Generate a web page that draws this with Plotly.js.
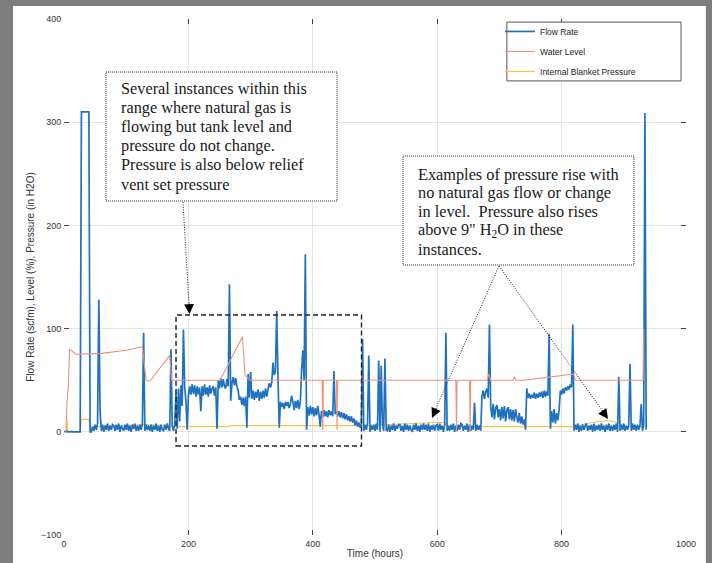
<!DOCTYPE html>
<html>
<head>
<meta charset="utf-8">
<script src="https://cdn.plot.ly/plotly-3.0.1.min.js"></script>
<style>html,body{margin:0;padding:0;background:#7c7d7f;}#chart{width:712px;height:563px;}</style>
</head>
<body>
<div id="chart"></div>
<script>
// ---- data ----
const flowSampleHours = 2; // flow logged every 2 hours
const flowRate = [
  0,0.5,0,0.3,0,0,0.4,0,0,0,
  0,0,0,0,310,310,310,310,310,310,
  310,0,0,5,1,7,2,8,128,20,
  1,7,0,6,2,8,1,6,2,7,
  6,1,7,2,8,0,6,3,1,7,
  2,8,1,6,0,7,3,8,1,6,
  1,7,2,8,96,1,7,2,6,1,
  7,0,6,2,8,1,6,0,7,2,
  1,7,2,8,3,1,80,6,1,7,
  38,3,42,10,45,25,99,44,30,2,
  35,44,36,46,37,45,34,44,36,43,
  20,44,35,46,36,43,34,45,37,42,
  44,35,43,3,50,42,52,43,51,44,
  42,51,44,143,30,47,53,45,52,44,
  40,31,34,26,33,25,34,4,56,33,
  58,32,40,31,39,33,41,30,39,32,
  40,33,42,34,41,47,43,48,67,55,
  59,117,53,4,29,24,28,22,29,25,
  29,23,27,35,29,21,30,23,31,22,
  29,60,79,50,172,2,24,16,25,17,
  24,15,23,16,25,17,5,20,14,21,
  15,20,14,21,16,20,15,59,17,20,
  15,20,14,19,13,18,12,17,11,15,
  10,15,9,13,6,11,5,9,4,7,
  90,1,7,2,8,74,0,6,2,7,
  1,8,2,69,0,64,7,1,71,2,
  1,7,0,6,2,8,1,6,3,7,
  7,1,6,0,8,2,7,1,6,2,
  0,7,2,8,1,6,0,7,2,8,
  2,7,1,8,0,6,2,7,1,6,
  7,1,8,2,6,0,7,96,1,6,
  1,7,2,8,0,6,1,7,2,8,
  7,1,6,2,8,0,7,1,6,2,
  28,1,7,2,6,1,35,40,32,39,
  42,33,104,25,14,27,12,23,26,14,
  22,11,24,13,25,10,21,24,12,22,
  11,21,10,22,14,9,18,8,15,7,
  12,2,42,33,37,32,36,33,38,32,
  37,33,38,34,39,33,40,34,39,35,
  95,3,20,9,22,8,18,11,21,40,
  36,42,37,43,40,44,41,46,43,104,
  1,7,2,8,0,6,1,7,2,6,
  8,1,6,2,7,0,8,1,6,2,
  7,1,8,2,6,0,7,2,8,1,
  6,1,7,2,8,0,53,1,7,2,
  8,1,6,2,7,66,1,8,2,7,
  1,7,2,6,27,1,7,309,2
];
const flowTime = flowRate.map((_, i) => i * flowSampleHours);

const levelTime  = [2,3,5,7,9,20,60,100,126,132,138,170,173,176,251,287,291,299,340,415,416,417,438,439,440,480,520,600,630,631,632,652,653,654,680,683,686,722,724,727,738,780,819,822,900,931,932];
const levelValue = [0,0,30,45,80,75,76,79,82.5,50,49,74,50,50,50,92,55,50,50,50,2,50,50,2,50,50,50,50,50,0,50,50,0,50,50,56,50,50,53,50,50,53,56,50,50,50,100];

const pressureTime  = [0,4,5,6,26,28,40,42,46,60,100,130,172,176,265,268,300,400,480,520,560,600,612,616,700,820,840,860,875,890,905,935];
const pressureValue = [0,0,12,0,0,12,12,2,5,5,6,7,6,5,5,6,6,6,6,7,8,9,9,5,5,5,8,10,11,9,5,5];

const seriesNames = ['Flow Rate', 'Water Level', 'Internal Blanket Pressure'];
const xTicks = [0, 200, 400, 600, 800, 1000];
const yTicks = [-100, 0, 100, 200, 300, 400];

const note1Lines = ['Several instances within this', 'range where natural gas is', 'flowing but tank level and', 'pressure do not change.', 'Pressure is also below relief', 'vent set pressure'];
const note2Lines = ['Examples of pressure rise with', 'no natural gas flow or change', 'in level.\u00a0 Pressure also rises', 'above 9" H<sub>2</sub>O in these', 'instances.'];

// ---- traces ----
const traces = [
  {x: flowTime, y: flowRate, name: seriesNames[0], type: 'scatter', mode: 'lines',
   line: {color: '#1f72bf', width: 1.7, simplify: false}, legendgroup: 'a', zorder: 1},
  {x: levelTime, y: levelValue, name: seriesNames[1], type: 'scatter', mode: 'lines',
   line: {color: '#f0907a', width: 1.1, simplify: false}, legendgroup: 'b', zorder: 2},
  {x: pressureTime, y: pressureValue, name: seriesNames[2], type: 'scatter', mode: 'lines',
   line: {color: '#f3c54e', width: 1.1, simplify: false}, legendgroup: 'c', zorder: 0}
];

// ---- decorations ----
const serif = 'Liberation Serif, Times New Roman, serif';
const annotations = [];
const n1y = [333.1, 314.5, 295.9, 277.3, 258.7, 240.1];
note1Lines.forEach((t, i) => annotations.push({x: 88.4, y: n1y[i], xref: 'x', yref: 'y', text: t, showarrow: false,
  xanchor: 'left', yanchor: 'middle', align: 'left', font: {family: serif, size: 16.3, color: '#1a1a1a'}}));
const n2y = [249.8, 231.6, 213.4, 195.2, 176.9];
note2Lines.forEach((t, i) => annotations.push({x: 565.9, y: n2y[i], xref: 'x', yref: 'y', text: t, showarrow: false,
  xanchor: 'left', yanchor: 'middle', align: 'left', font: {family: serif, size: 16.3, color: '#1a1a1a'}}));
const heads = [
  {x: 201.8, y: 114.1, ax: -0.6, ay: -12},
  {x: 591.6, y: 13.4, ax: 5, ay: -11},
  {x: 874.6, y: 12.4, ax: -7, ay: -10}
];
heads.forEach(h => annotations.push({x: h.x, y: h.y, xref: 'x', yref: 'y', ax: h.ax, ay: h.ay, text: '',
  showarrow: true, arrowhead: 2, arrowsize: 1.8, arrowwidth: 1.1, arrowcolor: '#000', standoff: 0}));

const dotted = {color: '#333', width: 1, dash: '1px,1px'};
const shapes = [
  {type: 'rect', xref: 'paper', yref: 'paper', x0: -0.082, x1: 1.032, y0: -0.1, y1: 1.0252,
   fillcolor: '#ffffff', line: {width: 0}, layer: 'below'},
  {type: 'rect', xref: 'paper', yref: 'paper', x0: 0.712, x1: 0.992, y0: 0.880, y1: 0.994,
   fillcolor: '#ffffff', line: {color: '#555', width: 1}, layer: 'above'},
  {type: 'rect', xref: 'x', yref: 'y', x0: 67.5, x1: 438.9, y0: 223.6, y1: 348.6,
   fillcolor: '#ffffff', line: dotted, layer: 'above'},
  {type: 'rect', xref: 'x', yref: 'y', x0: 545.0, x1: 916.4, y0: 161.6, y1: 267.2,
   fillcolor: '#ffffff', line: dotted, layer: 'above'},
  {type: 'rect', xref: 'x', yref: 'y', x0: 180.1, x1: 478.3, y0: -13.8, y1: 113.2,
   line: {color: '#222', width: 1.4, dash: '5px,3px'}, layer: 'above'},
  {type: 'line', xref: 'x', yref: 'y', x0: 191.3, y0: 222.7, x1: 201.5, y1: 118, line: {color: '#222', width: 1, dash: '1px,1.5px'}, layer: 'above'},
  {type: 'line', xref: 'x', yref: 'y', x0: 699.4, y0: 160.7, x1: 593, y1: 16, line: {color: '#222', width: 1, dash: '1px,1.5px'}, layer: 'above'},
  {type: 'line', xref: 'x', yref: 'y', x0: 699.4, y0: 160.7, x1: 872, y1: 15, line: {color: '#222', width: 1, dash: '1px,1.5px'}, layer: 'above'}
];

const axisCommon = {
  ticks: 'inside', ticklen: 5, tickwidth: 1, tickcolor: '#444',
  showline: true, linecolor: '#555', linewidth: 1, mirror: 'ticks',
  showgrid: true, gridcolor: '#e4e4e4', gridwidth: 1, zeroline: false,
  tickfont: {size: 9, color: '#333'}, automargin: false
};

const layout = {
  width: 712, height: 563,
  margin: {l: 64, r: 26, t: 19, b: 28, pad: 0},
  paper_bgcolor: '#7c7d7f', plot_bgcolor: '#ffffff',
  font: {family: 'Liberation Sans, Arial, sans-serif', size: 9, color: '#333'},
  showlegend: true,
  legend: {x: 0.701, y: 1.004, xanchor: 'left', yanchor: 'top', bgcolor: 'rgba(0,0,0,0)', borderwidth: 0,
           font: {size: 8.5, color: '#222'}, traceorder: 'grouped', tracegroupgap: 1},
  xaxis: Object.assign({}, axisCommon, {range: [0, 1000], tickvals: xTicks,
          title: {text: 'Time (hours)', font: {size: 10, color: '#333'}, standoff: 2}}),
  yaxis: Object.assign({}, axisCommon, {range: [-100, 400], tickvals: yTicks,
          title: {text: 'Flow Rate (scfm), Level (%), Pressure (in H2O)', font: {size: 10, color: '#333'}}}),
  shapes: shapes,
  annotations: annotations
};

Plotly.newPlot('chart', traces, layout, {displayModeBar: false, staticPlot: true});
</script>
</body>
</html>
